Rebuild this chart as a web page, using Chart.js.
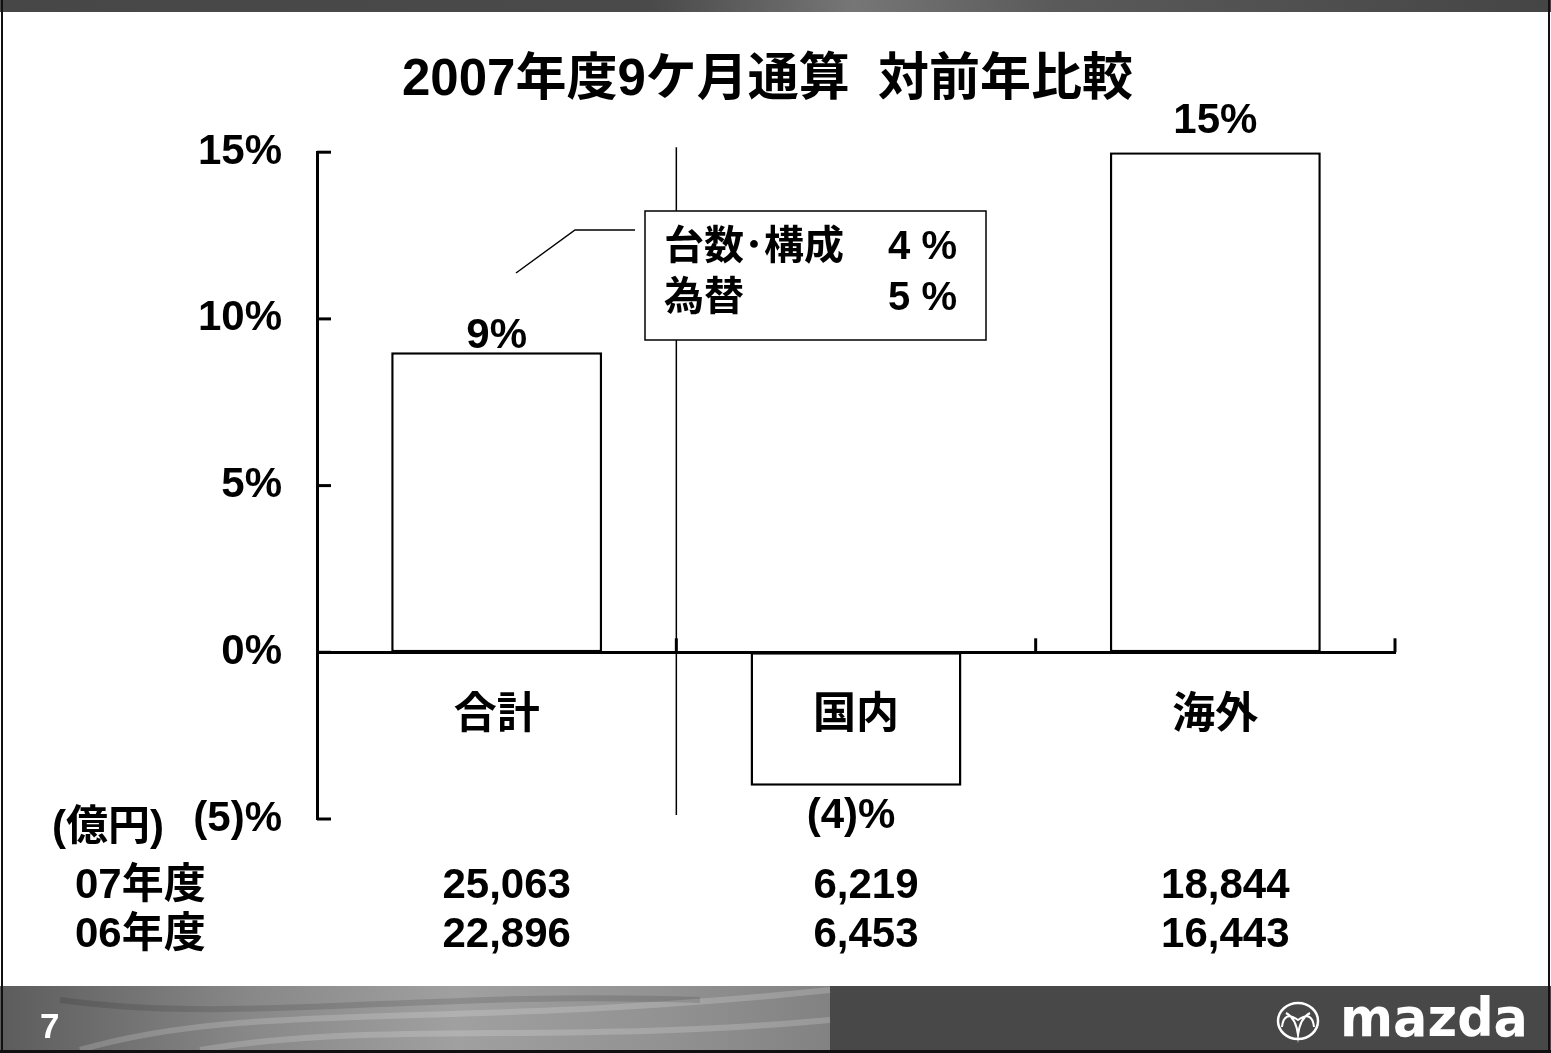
<!DOCTYPE html>
<html>
<head>
<meta charset="utf-8">
<script src="https://cdn.jsdelivr.net/npm/chart.js@4.4.1/dist/chart.umd.min.js"></script>
<style>
  html, body { margin: 0; padding: 0; background: #fff; }
  #chart-sales { display: block; }
</style>
</head>
<body>
<canvas id="chart-sales" width="1551" height="1053"></canvas>
<script>
'use strict';

// data
var categories = ['合計', '国内', '海外'];
var change_pct = [9, -4, 15];
var sales_fy07 = ['25,063', '6,219', '18,844'];
var sales_fy06 = ['22,896', '6,453', '16,443'];
var row_labels = ['07年度', '06年度'];
var unit_label = '(億円)';
var y_min = -5, y_max = 15, y_step = 5;
var breakdown_labels = ['台数･構成', '為替'];
var breakdown_values = ['4 %', '5 %'];
var chart_title = '2007年度9ケ月通算  対前年比較';

var FONT = '"Liberation Sans", "Noto Sans CJK JP", Arial, sans-serif';

var fmtPct = function(v) {
    return v < 0 ? '(' + Math.abs(v) + ')%' : v + '%';
};

// slide frame, bands, divider line
var slideBack = {
    id: 'slideBack',
    beforeDraw: function(chart) {
        var c = chart.ctx;
        var W = chart.width, H = chart.height;
        c.save();
        c.fillStyle = '#fff';
        c.fillRect(0, 0, W, H);

        // top band
        var g = c.createLinearGradient(0, 0, W, 0);
        g.addColorStop(0, '#474747');
        g.addColorStop(0.42, '#4a4a4a');
        g.addColorStop(0.55, '#767676');
        g.addColorStop(0.68, '#5a5a5a');
        g.addColorStop(1, '#454545');
        c.fillStyle = g;
        c.fillRect(0, 0, W, 12);

        // bottom band
        c.fillStyle = '#484848';
        c.fillRect(0, 986, W, 67);
        var g2 = c.createLinearGradient(0, 0, 830, 0);
        g2.addColorStop(0, '#5c5c5c');
        g2.addColorStop(0.3, '#888888');
        g2.addColorStop(0.55, '#a0a0a0');
        g2.addColorStop(0.8, '#929292');
        g2.addColorStop(1, '#828282');
        c.fillStyle = g2;
        c.fillRect(0, 986, 830, 64);
        c.strokeStyle = 'rgba(255,255,255,0.18)';
        c.lineWidth = 6;
        c.beginPath();
        c.moveTo(80, 1050); c.bezierCurveTo(250, 1000, 450, 1030, 830, 990);
        c.moveTo(200, 1050); c.bezierCurveTo(380, 1020, 560, 1045, 830, 1020);
        c.stroke();
        c.strokeStyle = 'rgba(0,0,0,0.12)';
        c.beginPath();
        c.moveTo(60, 1000); c.bezierCurveTo(240, 1025, 420, 990, 700, 1000);
        c.stroke();

        // frame
        c.fillStyle = '#111';
        c.fillRect(1, 0, 2, H);
        c.fillRect(W - 3, 0, 2, H);
        c.fillRect(0, H - 3, W, 3);

        // divider between total and the split
        var xs = chart.scales.x, ys = chart.scales.y;
        var xd = (xs.getPixelForValue(0) + xs.getPixelForValue(1)) / 2;
        c.strokeStyle = '#000';
        c.lineWidth = 1.5;
        c.beginPath();
        c.moveTo(xd, ys.getPixelForValue(y_max) - 5);
        c.lineTo(xd, ys.getPixelForValue(y_min) - 4);
        c.stroke();
        c.restore();
    }
};

var slideFront = {
    id: 'slideFront',
    afterDraw: function(chart) {
        var c = chart.ctx;
        var xs = chart.scales.x, ys = chart.scales.y;
        var area = chart.chartArea;
        var y0 = ys.getPixelForValue(0);
        c.save();
        c.strokeStyle = '#000';
        c.fillStyle = '#000';

        // y ticks point inward
        c.lineWidth = 3;
        for (var v = y_min; v <= y_max; v += y_step) {
            var ty = ys.getPixelForValue(v);
            c.beginPath();
            c.moveTo(area.left, ty);
            c.lineTo(area.left + 14, ty);
            c.stroke();
        }
        // x ticks at category edges, pointing up
        c.lineWidth = 3;
        for (var i = 0; i < categories.length; i++) {
            var tx = i < categories.length - 1 ?
                (xs.getPixelForValue(i) + xs.getPixelForValue(i + 1)) / 2 : area.right;
            c.beginPath();
            c.moveTo(tx, y0);
            c.lineTo(tx, y0 - 14);
            c.stroke();
        }

        // value labels
        var meta = chart.getDatasetMeta(0);
        var gaps = [4, 10, 19];
        c.font = 'bold 42px ' + FONT;
        c.textAlign = 'center';
        meta.data.forEach(function(bar, k) {
            var val = change_pct[k];
            if (val >= 0) {
                c.textBaseline = 'alphabetic';
                c.fillText(fmtPct(val), bar.x, bar.y - gaps[k]);
            } else {
                c.textBaseline = 'top';
                c.fillText(fmtPct(val), bar.x - 5, bar.y + gaps[k]);
            }
        });

        // breakdown callout
        c.lineWidth = 1.5;
        c.beginPath();
        c.moveTo(516, 273);
        c.lineTo(575, 230);
        c.lineTo(635, 230);
        c.stroke();
        c.fillStyle = '#fff';
        c.fillRect(645, 211, 341, 129);
        c.strokeRect(645, 211, 341, 129);
        c.fillStyle = '#000';
        c.font = 'bold 40px ' + FONT;
        c.textBaseline = 'middle';
        for (var r = 0; r < breakdown_labels.length; r++) {
            var ly = 248 + r * 51;
            c.textAlign = 'left';
            c.fillText(breakdown_labels[r], 664, ly);
            c.textAlign = 'right';
            c.fillText(breakdown_values[r], 957, ly);
        }

        // sales table under the chart
        c.font = 'bold 42px ' + FONT;
        c.textBaseline = 'middle';
        c.textAlign = 'left';
        c.fillText(unit_label, 52, 828);
        var rows = [sales_fy07, sales_fy06];
        for (var j = 0; j < rows.length; j++) {
            var ry = 886 + j * 49;
            c.textAlign = 'left';
            c.fillText(row_labels[j], 75, ry);
            c.textAlign = 'center';
            for (var m = 0; m < rows[j].length; m++) {
                c.fillText(rows[j][m], xs.getPixelForValue(m) + 10, ry);
            }
        }

        // page number and logo
        c.fillStyle = '#fff';
        c.font = 'bold 35px ' + FONT;
        c.textAlign = 'left';
        c.textBaseline = 'alphabetic';
        c.fillText('7', 40, 1038);

        c.strokeStyle = '#fff';
        c.lineWidth = 2.5;
        c.beginPath();
        c.ellipse(1298, 1021, 20, 18, 0, 0, Math.PI * 2);
        c.stroke();
        c.lineWidth = 2;
        c.beginPath();
        c.moveTo(1282, 1027);
        c.quadraticCurveTo(1284, 1010, 1298, 1020);
        c.quadraticCurveTo(1312, 1010, 1314, 1027);
        c.moveTo(1286, 1013);
        c.quadraticCurveTo(1296, 1018, 1298, 1035);
        c.quadraticCurveTo(1300, 1018, 1310, 1013);
        c.stroke();
        c.font = 'bold 54px "DejaVu Sans", sans-serif';
        c.fillText('mazda', 1340, 1036, 188);
        c.restore();
    }
};

var ctx_sales = document.getElementById('chart-sales').getContext('2d');

var chart_sales = new Chart(ctx_sales, {
    type: 'bar',
    data: {
        labels: categories,
        datasets: [{
            data: change_pct,
            backgroundColor: '#fff',
            borderColor: '#000',
            borderWidth: 2.5,
            borderSkipped: false,
            categoryPercentage: 1,
            barPercentage: 0.587
        }]
    },
    options: {
        responsive: false,
        animation: false,
        events: [],
        layout: {
            padding: { left: 140, right: 156, top: 50, bottom: 234 }
        },
        plugins: {
            legend: { display: false },
            tooltip: { enabled: false },
            title: {
                display: true,
                text: chart_title,
                color: '#000',
                font: { family: FONT, size: 51, weight: 'bold', lineHeight: 1.2 },
                padding: { top: 0, bottom: 41 }
            }
        },
        scales: {
            x: {
                position: { y: 0 },
                grid: { display: false, drawTicks: false },
                border: { display: true, color: '#000', width: 3, z: 1 },
                ticks: {
                    z: 1,
                    color: '#000',
                    padding: 38,
                    maxRotation: 0,
                    autoSkip: false,
                    font: { family: FONT, size: 43, weight: 'bold', lineHeight: 1.2 }
                }
            },
            y: {
                min: y_min,
                max: y_max,
                afterFit: function(scale) { scale.width = 177; },
                grid: { display: false, drawTicks: false },
                border: { display: true, color: '#000', width: 3 },
                ticks: {
                    stepSize: y_step,
                    color: '#000',
                    padding: 35,
                    font: { family: FONT, size: 42, weight: 'bold' },
                    callback: function(v) { return fmtPct(v); }
                }
            }
        }
    },
    plugins: [slideBack, slideFront]
});
</script>
</body>
</html>
